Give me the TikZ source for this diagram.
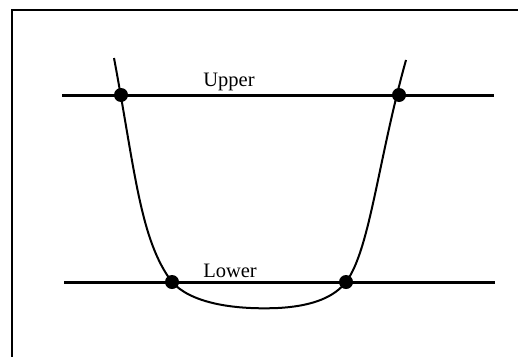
\documentclass[tikz,border=0pt]{standalone}
\usepackage{fontspec}
\setmainfont{Liberation Serif}
\begin{document}
\begin{tikzpicture}[x=1pt,y=-1pt,
  frame/.style={line width=2pt,line cap=rect},
  level/.style={line width=3pt},
  curveline/.style={line width=2pt},
  dot/.style={fill=black,radius=7},
  lbl/.style={font=\fontsize{20.5}{24}\selectfont,anchor=base,inner sep=0pt}]
\useasboundingbox (0,0) rectangle (518,356);
% frame (only top and left edges visible)
\draw[frame] (519,10) -- (12,10) -- (12,357);
% coordinates
\coordinate (ul) at (121,95);
\coordinate (ur) at (399,95);
\coordinate (ll) at (172,282);
\coordinate (lr) at (346,282);
\coordinate (cs) at (114,58);
\coordinate (ce) at (406,60);
\coordinate (cb) at (278,308);
\coordinate (u0) at (62,95);
\coordinate (u1) at (494,95);
\coordinate (l0) at (64,282);
\coordinate (l1) at (495,282);
% level lines
\draw[level] (u0) -- (u1);
\draw[level] (l0) -- (l1);
% curve
\draw[curveline] (cs) .. controls (135,170) and (140,240) .. (ll)
  .. controls (190,302) and (230,310) .. (cb)
  .. controls (315,306) and (335,296) .. (lr)
  .. controls (370,250) and (378,160) .. (ce);
% dots
\fill[dot] (ul) circle;
\fill[dot] (ur) circle;
\fill[dot] (ll) circle;
\fill[dot] (lr) circle;
% labels
\node[lbl] (upper) at (229,86) {Upper};
\node[lbl] (lower) at (230,277) {Lower};
\end{tikzpicture}
\end{document}
